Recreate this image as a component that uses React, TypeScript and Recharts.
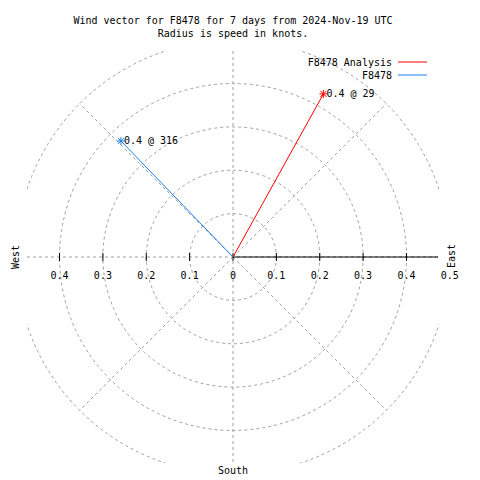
import React from 'react';
import * as R from 'recharts';

const { ScatterChart, Scatter, XAxis, YAxis, Customized } = R as any;
const usePlotArea = (R as any).usePlotArea;

// ---- data ----
const titleLines = ['Wind vector for F8478 for 7 days from 2024-Nov-19 UTC', 'Radius is speed in knots.'];
const seriesNames = ['F8478 Analysis', 'F8478'];
const speeds = [0.43, 0.372];
const directions = [29, 316];
const speedLabels = ['0.4', '0.4'];
const ringValues = [0.1, 0.2, 0.3, 0.4, 0.5];
const spokeAngles = [45, 135, 225, 315];
const rightTicks = [0, 0.1, 0.2, 0.3, 0.4, 0.5];
const leftTicks = [0.1, 0.2, 0.3, 0.4];
const compassLabels = ['West', 'East', 'South'];

// ---- styles ----
const colors = ['#ff0000', '#1a7ee8'];
const DOMAIN: [number, number] = [-0.475, 0.475];
const FONT = '"DejaVu Sans Mono", "Liberation Mono", monospace';
const GRID = '#a0a0a0';

const toRad = (d: number) => (d * Math.PI) / 180;

const seriesData = seriesNames.map((name, i) => [
  { x: 0, y: 0, tip: false },
  {
    x: speeds[i] * Math.sin(toRad(directions[i])),
    y: speeds[i] * Math.cos(toRad(directions[i])),
    tip: true,
    label: `${speedLabels[i]} @ ${directions[i]}`,
  },
]);

const fmt = (v: number) => (v === 0 ? '0' : String(Math.round(v * 10) / 10));

function Layer() {
  const plot = usePlotArea ? usePlotArea() : null;
  if (!plot) return null;
  const span = DOMAIN[1] - DOMAIN[0];
  const sx = (v: number) => plot.x + ((v - DOMAIN[0]) / span) * plot.width;
  const sy = (v: number) => plot.y + ((DOMAIN[1] - v) / span) * plot.height;
  const cx = sx(0);
  const cy = sy(0);
  const unit = plot.width / span;
  const dash = '3 3';
  return (
    <g>
      <defs>
        <clipPath id="plotClip">
          <rect x={plot.x} y={plot.y} width={plot.width} height={plot.height} />
        </clipPath>
      </defs>
      <g clipPath="url(#plotClip)" fill="none" stroke={GRID} strokeDasharray={dash} strokeWidth={1}>
        {ringValues.map((r) => (
          <circle key={r} cx={cx} cy={cy} r={r * unit} />
        ))}
        {spokeAngles.map((a) => (
          <line
            key={a}
            x1={cx}
            y1={cy}
            x2={sx(0.5 * Math.sin(toRad(a)))}
            y2={sy(0.5 * Math.cos(toRad(a)))}
          />
        ))}
        <line x1={sx(DOMAIN[0])} y1={cy} x2={sx(DOMAIN[1])} y2={cy} />
        <line x1={cx} y1={sy(DOMAIN[1])} x2={cx} y2={sy(DOMAIN[0])} />
      </g>
      {/* radial axis */}
      <line x1={cx} y1={cy} x2={sx(DOMAIN[1]) - 1} y2={cy} stroke="#000" strokeWidth={1} />
      {[...leftTicks.map((t) => -t), ...rightTicks.filter((t) => t <= DOMAIN[1])].map((t) => (
        <line key={'tk' + t} x1={sx(t)} y1={cy - 4} x2={sx(t)} y2={cy + 4} stroke="#000" strokeWidth={1} />
      ))}
      <g fontFamily={FONT} fontSize={10} fill="#000">
        {leftTicks.map((t) => (
          <text key={'l' + t} x={sx(-t)} y={cy + 18} textAnchor="middle" dominantBaseline="central">
            {fmt(t)}
          </text>
        ))}
        {rightTicks.map((t) => (
          <text key={'r' + t} x={sx(t)} y={cy + 18} textAnchor="middle" dominantBaseline="central">
            {fmt(t)}
          </text>
        ))}
        {titleLines.map((t, i) => (
          <text key={t} x={cx} y={20 + i * 13} textAnchor="middle" dominantBaseline="central">
            {t}
          </text>
        ))}
        <text x={15} y={cy} textAnchor="middle" dominantBaseline="central" transform={`rotate(-90 15 ${cy})`}>
          {compassLabels[0]}
        </text>
        <text
          x={451}
          y={cy - 1}
          textAnchor="middle"
          dominantBaseline="central"
          transform={`rotate(-90 451 ${cy - 1})`}
        >
          {compassLabels[1]}
        </text>
        <text x={cx} y={sy(DOMAIN[0]) + 7} textAnchor="middle" dominantBaseline="central">
          {compassLabels[2]}
        </text>
        {seriesNames.map((n, i) => (
          <g key={n}>
            <text x={392} y={62 + i * 13} textAnchor="end" dominantBaseline="central">
              {n}
            </text>
            <line x1={398} y1={62 + i * 13} x2={427} y2={62 + i * 13} stroke={colors[i]} strokeWidth={1} />
          </g>
        ))}
      </g>
    </g>
  );
}

const makeShape = (color: string) => (props: any) => {
  const { cx, cy, payload } = props;
  if (!payload || !payload.tip) return <g />;
  const s = 4;
  return (
    <g>
      <g stroke={color} strokeWidth={1}>
        <line x1={cx - s} y1={cy} x2={cx + s} y2={cy} />
        <line x1={cx} y1={cy - s} x2={cx} y2={cy + s} />
        <line x1={cx - 3} y1={cy - 3} x2={cx + 3} y2={cy + 3} />
        <line x1={cx - 3} y1={cy + 3} x2={cx + 3} y2={cy - 3} />
      </g>
      <text x={cx + 3} y={cy} fontFamily={FONT} fontSize={10} fill="#000" dominantBaseline="central">
        {payload.label}
      </text>
    </g>
  );
};

export default function App() {
  return (
    <div style={{ position: 'absolute', left: 0, top: 0, width: 480, height: 480, background: '#fff' }}>
      <ScatterChart width={480} height={480} margin={{ top: 51, right: 41, bottom: 17, left: 27 }}>
        <XAxis type="number" dataKey="x" domain={DOMAIN} hide allowDataOverflow />
        <YAxis type="number" dataKey="y" domain={DOMAIN} hide allowDataOverflow />
        <Customized component={Layer} />
        {seriesData.map((d, i) => (
          <Scatter
            key={seriesNames[i]}
            name={seriesNames[i]}
            data={d}
            fill={colors[i]}
            line={{ stroke: colors[i], strokeWidth: 1 }}
            lineType="joint"
            shape={makeShape(colors[i])}
            isAnimationActive={false}
          />
        ))}
      </ScatterChart>
    </div>
  );
}
